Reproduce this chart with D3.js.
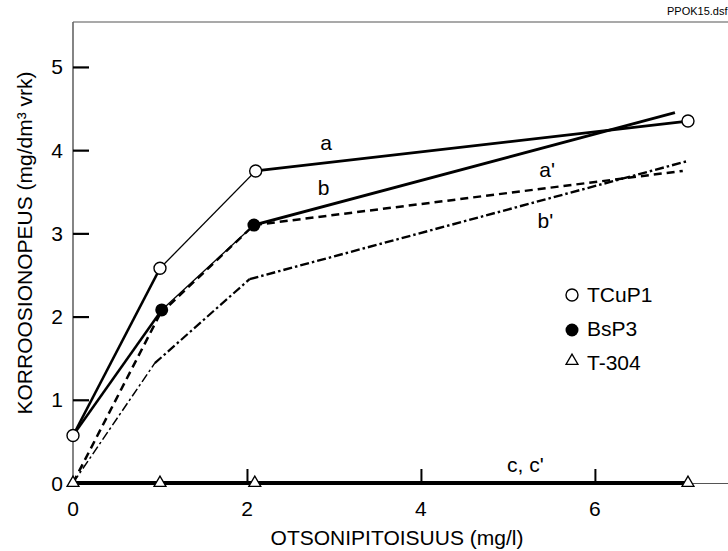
<!DOCTYPE html>
<html>
<head>
<meta charset="utf-8">
<script src="https://cdn.jsdelivr.net/npm/d3@7"></script>
<style>
  html, body { margin: 0; padding: 0; background: #fff; }
  svg { display: block; font-family: "Liberation Sans", Arial, sans-serif; }
</style>
</head>
<body>
<svg id="chart" width="728" height="551"></svg>
<script>
// ---- data ----
const xTicks = [0, 2, 4, 6];
const yTicks = [0, 1, 2, 3, 4, 5];
const xTitle = "OTSONIPITOISUUS (mg/l)";
const yTitle = "KORROOSIONOPEUS (mg/dm³ vrk)";
const fileTag = "PPOK15.dsf";

const legendNames = ["TCuP1", "BsP3", "T-304"];

// measured points
const tcup1X = [0, 1.0, 2.1, 7.07];
const tcup1Y = [0.57, 2.58, 3.75, 4.35];
const bsp3X = [1.02, 2.08];
const bsp3Y = [2.08, 3.10];
const t304X = [0, 1.0, 2.09, 7.07];
const t304Y = [0, 0, 0, 0];

// curves
const lineA = [[0, 0.57], [1.0, 2.58], [2.1, 3.75], [7.07, 4.35]];
const lineB = [[0, 0.57], [1.02, 2.08], [2.08, 3.10], [6.92, 4.45]];
const lineA2 = [[0, 0], [1.0, 2.03], [2.08, 3.10], [7.01, 3.75]];
const lineB2 = [[0, 0], [0.94, 1.44], [2.03, 2.45], [7.07, 3.87]];
const lineC = [[0, 0], [7.07, 0]];

const curveLabels = ["a", "b", "a'", "b'", "c, c'"];
const curveLabelAt = [[2.91, 4.0], [2.88, 3.46], [5.45, 3.68], [5.43, 3.06], [4.99, 0.13]];

// ---- chart ----
const svg = d3.select("#chart");
const x = d3.scaleLinear().domain([0, 7.53]).range([73, 728]);
const y = d3.scaleLinear().domain([0, 5.54]).range([483, 22]);
const FS = 21;

// frame: top and left
svg.append("line").attr("x1", 73).attr("x2", 728).attr("y1", 22).attr("y2", 22)
  .attr("stroke", "#555").attr("stroke-width", 1.2);
svg.append("line").attr("x1", 73).attr("x2", 73).attr("y1", 22).attr("y2", 483)
  .attr("stroke", "#666").attr("stroke-width", 1.6);
// x axis baseline
svg.append("line").attr("x1", 73).attr("x2", 728).attr("y1", 483.5).attr("y2", 483.5)
  .attr("stroke", "#555").attr("stroke-width", 1.2);

// y ticks via axis
const yAxis = d3.axisRight(y).tickValues(yTicks).tickSize(16).tickFormat("");
const gy = svg.append("g").attr("transform", "translate(73,0)").call(yAxis);
gy.select(".domain").remove();
gy.selectAll(".tick line").attr("stroke", "#000").attr("stroke-width", 2.2);
gy.selectAll(".tick").filter(d => d === 0).select("line").remove();
svg.append("g").selectAll("text").data(yTicks).join("text")
  .attr("x", 63).attr("y", d => y(d)).attr("dy", "0.36em")
  .attr("text-anchor", "end").attr("font-size", FS).text(d => d);

// x ticks via axis
const xAxis = d3.axisTop(x).tickValues(xTicks).tickSize(14).tickFormat("");
const gx = svg.append("g").attr("transform", "translate(0,483)").call(xAxis);
gx.select(".domain").remove();
gx.selectAll(".tick line").attr("stroke", "#000").attr("stroke-width", 2);
gx.selectAll(".tick").filter(d => d === 0).select("line").remove();
svg.append("g").selectAll("text").data(xTicks).join("text")
  .attr("x", d => x(d)).attr("y", 516)
  .attr("text-anchor", "middle").attr("font-size", FS).text(d => d);

// titles
svg.append("text").attr("x", 397).attr("y", 545).attr("text-anchor", "middle")
  .attr("font-size", FS).text(xTitle);
svg.append("text").attr("transform", "translate(32,243) rotate(-90)")
  .attr("text-anchor", "middle").attr("font-size", FS).text(yTitle);
svg.append("text").attr("x", 667).attr("y", 15).attr("font-size", 11).text(fileTag);

// curves drawn segment by segment (per-segment widths)
function drawCurve(pts, widths, dash) {
  for (let i = 0; i < pts.length - 1; i++) {
    svg.append("path")
      .attr("d", d3.line().x(p => x(p[0])).y(p => y(p[1]))([pts[i], pts[i + 1]]))
      .attr("fill", "none").attr("stroke", "#000")
      .attr("stroke-width", widths[i])
      .attr("stroke-dasharray", dash || null);
  }
}
drawCurve(lineC, [4], null);
drawCurve(lineB2, [1.5, 2.2, 2.4], "9,3,2.5,3");
drawCurve(lineA2, [2.5, 2.4, 2.5], "8,5");
drawCurve(lineB, [2.5, 1.3, 2.8], null);
drawCurve(lineA, [2.5, 1.3, 2.8], null);

// curve labels
svg.append("g").selectAll("text").data(curveLabels).join("text")
  .attr("x", (d, i) => x(curveLabelAt[i][0])).attr("y", (d, i) => y(curveLabelAt[i][1]))
  .attr("text-anchor", (d, i) => i === 4 ? "start" : "middle")
  .attr("font-size", FS).text(d => d);

// markers
const tri = d3.symbol().type(d3.symbolTriangle).size(62);
svg.append("g").selectAll("path").data(t304X.map((v, i) => [v, t304Y[i]])).join("path")
  .attr("d", tri).attr("transform", d => `translate(${x(d[0])},${y(d[1])})`)
  .attr("fill", "#fff").attr("stroke", "#000").attr("stroke-width", 1.3);
svg.append("g").selectAll("circle").data(tcup1X.map((v, i) => [v, tcup1Y[i]])).join("circle")
  .attr("cx", d => x(d[0])).attr("cy", d => y(d[1])).attr("r", 6)
  .attr("fill", "#fff").attr("stroke", "#000").attr("stroke-width", 1.4);
svg.append("g").selectAll("circle").data(bsp3X.map((v, i) => [v, bsp3Y[i]])).join("circle")
  .attr("cx", d => x(d[0])).attr("cy", d => y(d[1])).attr("r", 6.5)
  .attr("fill", "#000");

// legend
const lg = svg.append("g").attr("transform", "translate(572,295)");
lg.append("circle").attr("cx", 0).attr("cy", 0).attr("r", 6)
  .attr("fill", "#fff").attr("stroke", "#000").attr("stroke-width", 1.4);
lg.append("circle").attr("cx", 0).attr("cy", 35).attr("r", 6.5).attr("fill", "#000");
lg.append("path").attr("d", tri).attr("transform", "translate(0,66)")
  .attr("fill", "#fff").attr("stroke", "#000").attr("stroke-width", 1.3);
lg.selectAll("text").data(legendNames).join("text")
  .attr("x", 15).attr("y", (d, i) => 7 + i * 34)
  .attr("font-size", FS).text(d => d);
</script>
</body>
</html>
